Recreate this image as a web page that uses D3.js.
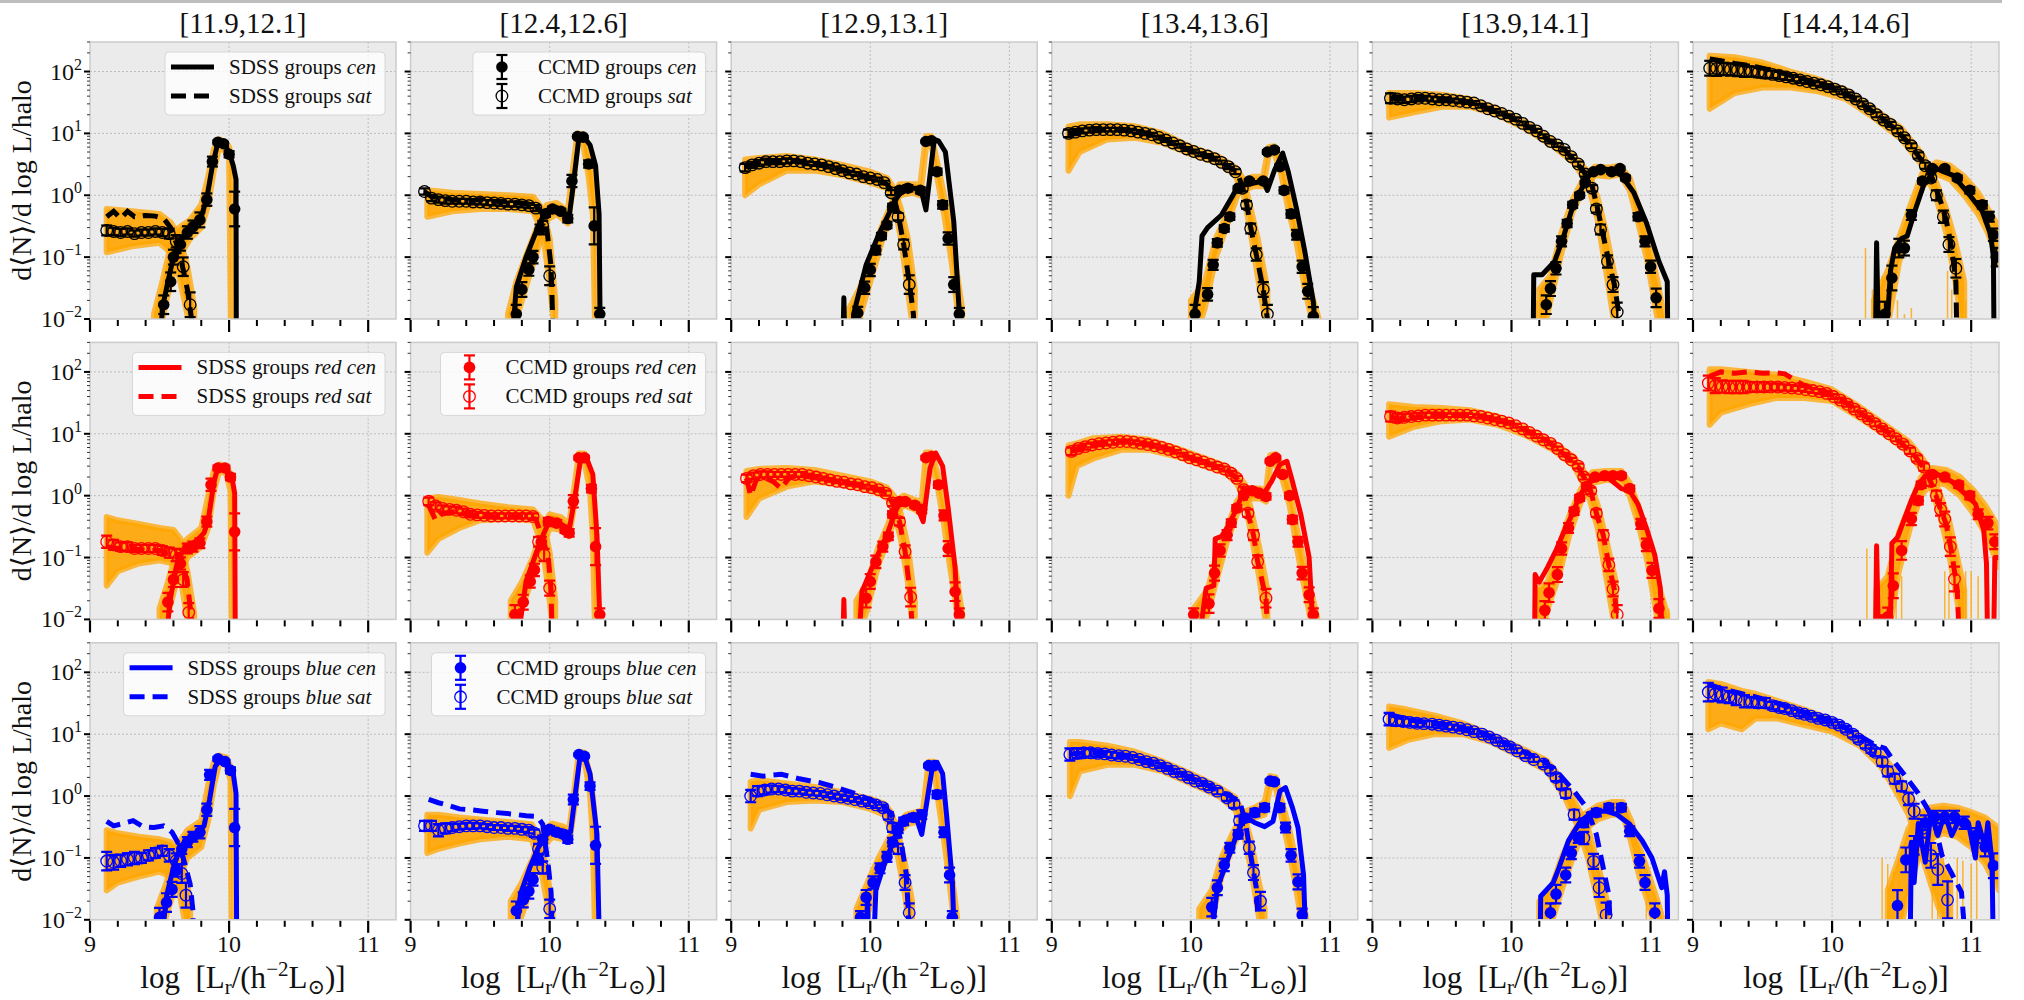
<!DOCTYPE html>
<html>
<head>
<meta charset="utf-8">
<script src="https://cdn.jsdelivr.net/npm/d3@7"></script>
<style>
  body { margin: 0; background: #fff; }
  svg text { font-family: "Liberation Serif", "DejaVu Serif", serif; fill: #111; }
</style>
</head>
<body>
<div id="chart"></div>
<script>
// halo mass bins (titles) and axis ticks
const massBins = ["[11.9,12.1]", "[12.4,12.6]", "[12.9,13.1]", "[13.4,13.6]", "[13.9,14.1]", "[14.4,14.6]"];
const xTicks = [9, 10, 11];
const xMinor = [9.2, 9.4, 9.6, 9.8, 10.2, 10.4, 10.6, 10.8];
const yExps = [-2, -1, 0, 1, 2];

// ---- all galaxies (black) ----
// SDSS lines: [logL, value]; 0 = drops out of the log axis
const sdssCenAll = [
  [[9.50,0],[9.52,0.015],[9.56,0.04],[9.60,0.10],[9.65,0.19],[9.70,0.26],[9.75,0.33],[9.80,0.45],[9.84,0.9],[9.88,3.0],[9.92,7.2],[9.96,6.8],[10.00,5.0],[10.03,3.0],[10.05,1.8],[10.052,0]],
  [[9.72,0],[9.76,0.033],[9.83,0.10],[9.90,0.25],[9.96,0.5],[10.0,0.62],[10.06,0.62],[10.14,0.45],[10.17,1.5],[10.21,8.5],[10.25,8.5],[10.29,6.5],[10.33,3.0],[10.355,0.5],[10.365,0]],
  [[9.80,0],[9.81,0.022],[9.82,0],[9.87,0],[9.88,0.012],[9.97,0.075],[10.06,0.23],[10.15,0.6],[10.19,0.9],[10.24,1.3],[10.33,1.3],[10.37,1.1],[10.40,0.58],[10.46,8.0],[10.49,7.6],[10.54,5.0],[10.60,0.38],[10.66,0]],
  [[9.99,0],[10.03,0.015],[10.06,0.04],[10.08,0.22],[10.12,0.3],[10.22,0.48],[10.34,1.4],[10.52,1.7],[10.55,1.2],[10.60,2.5],[10.66,4.8],[10.70,2.4],[10.76,0.6],[10.82,0.12],[10.88,0.019],[10.91,0]],
  [[10.155,0],[10.16,0.052],[10.22,0.052],[10.31,0.085],[10.37,0.2],[10.43,0.55],[10.49,1.1],[10.55,2.0],[10.62,2.7],[10.70,2.6],[10.79,2.1],[10.88,1.1],[10.97,0.36],[11.06,0.085],[11.12,0.04],[11.125,0]],
  [[10.31,0],[10.32,0.17],[10.33,0.011],[10.40,0.011],[10.42,0.06],[10.45,0.14],[10.50,0.2],[10.54,0.22],[10.60,0.6],[10.66,1.5],[10.75,2.7],[10.87,2.1],[10.99,1.0],[11.08,0.55],[11.14,0.23],[11.16,0.1],[11.165,0]]
];
const sdssSatAll = [
  [[9.12,0.45],[9.17,0.55],[9.22,0.42],[9.27,0.55],[9.32,0.45],[9.40,0.47],[9.47,0.46],[9.53,0.42],[9.58,0.30],[9.62,0.17],[9.66,0.08],[9.70,0.03],[9.73,0.01],[9.74,0]],
  [[9.10,1.15],[9.15,0.95],[9.22,0.9],[9.30,0.85],[9.40,0.8],[9.50,0.85],[9.60,0.8],[9.70,0.78],[9.80,0.75],[9.90,0.7],[9.95,0.5],[9.98,0.28],[10.01,0.07],[10.03,0]],
  [[9.10,2.9],[9.20,3.4],[9.30,3.5],[9.45,3.6],[9.60,3.2],[9.75,2.8],[9.90,2.2],[10.05,1.8],[10.12,1.5],[10.16,1.1],[10.20,0.5],[10.24,0.16],[10.28,0.04],[10.31,0.012],[10.32,0]],
  [[9.12,10],[9.25,11],[9.40,11.5],[9.57,11.5],[9.72,9.5],[9.87,7],[10.01,5.1],[10.16,4],[10.27,2.9],[10.33,2.4],[10.37,1.4],[10.40,0.75],[10.43,0.3],[10.47,0.11],[10.52,0.03],[10.55,0.01],[10.56,0]],
  [[9.13,37],[9.25,36],[9.40,37],[9.55,35],[9.73,31],[9.85,24],[10.0,18],[10.16,11.5],[10.28,7.4],[10.37,5.8],[10.46,3.5],[10.52,2.4],[10.58,1.4],[10.62,0.6],[10.65,0.28],[10.70,0.085],[10.74,0.036],[10.77,0.013],[10.78,0]],
  [[9.12,160],[9.20,150],[9.30,135],[9.45,120],[9.60,100],[9.80,75],[10.0,55],[10.15,38],[10.30,22],[10.45,12],[10.55,7],[10.65,3.5],[10.72,1.9],[10.78,0.8],[10.82,0.4],[10.86,0.14],[10.89,0.04],[10.90,0]]
];
// CCMD points: [logL, value, error in dex]
const ccmdCenAll = [
  [[9.53,0.017,0.15],[9.58,0.04,0.15],[9.60,0.10,0.12],[9.65,0.16,0.1],[9.70,0.25,0.1],[9.74,0.31,0.1],[9.79,0.40,0.12],[9.84,0.85,0.1],[9.88,3.5,0.08],[9.92,7.2,0.03],[9.96,6.8,0.03],[10.00,4.6,0.05],[10.04,0.6,0.28]],
  [[9.76,0.012,0.15],[9.80,0.03,0.12],[9.85,0.063,0.1],[9.88,0.10,0.1],[9.93,0.28,0.08],[9.97,0.5,0.05],[10.02,0.6,0.04],[10.08,0.55,0.04],[10.13,0.42,0.06],[10.16,1.7,0.1],[10.20,8.9,0.02],[10.24,8.7,0.02],[10.28,3.2,0.06],[10.32,0.32,0.3],[10.36,0.012,0.1]],
  [[9.91,0.0125,0.1],[9.96,0.032,0.1],[10.0,0.062,0.1],[10.04,0.13,0.07],[10.08,0.22,0.05],[10.12,0.33,0.05],[10.16,0.65,0.05],[10.21,1.2,0.04],[10.27,1.3,0.05],[10.36,1.2,0.05],[10.40,7.4,0.02],[10.44,7.6,0.02],[10.48,2.4,0.05],[10.52,0.7,0.06],[10.56,0.2,0.1],[10.60,0.036,0.12],[10.64,0.012,0.1]],
  [[10.03,0.012,0.15],[10.12,0.025,0.1],[10.16,0.075,0.08],[10.19,0.17,0.06],[10.24,0.29,0.05],[10.28,0.45,0.05],[10.34,1.3,0.03],[10.42,1.7,0.03],[10.52,1.7,0.03],[10.55,5.0,0.03],[10.60,5.4,0.03],[10.64,2.9,0.04],[10.67,1.2,0.05],[10.72,0.5,0.06],[10.76,0.23,0.08],[10.80,0.07,0.1],[10.84,0.028,0.12],[10.88,0.011,0.15]],
  [[10.25,0.017,0.15],[10.28,0.031,0.12],[10.32,0.066,0.1],[10.36,0.18,0.08],[10.40,0.35,0.06],[10.44,0.7,0.05],[10.49,1.0,0.04],[10.53,1.6,0.03],[10.59,2.4,0.03],[10.64,2.6,0.03],[10.72,2.4,0.03],[10.78,2.7,0.03],[10.82,1.9,0.04],[10.91,0.45,0.06],[10.96,0.18,0.08],[11.0,0.07,0.1],[11.04,0.022,0.15]],
  [[10.38,0.012,0.2],[10.43,0.046,0.2],[10.48,0.14,0.15],[10.52,0.14,0.12],[10.57,0.48,0.08],[10.65,1.7,0.04],[10.72,2.7,0.03],[10.81,2.7,0.03],[10.90,1.9,0.04],[10.99,1.2,0.05],[11.08,0.7,0.06],[11.13,0.45,0.08],[11.16,0.23,0.1],[11.18,0.1,0.15]]
];
const ccmdSatAll = [
  [[9.12,0.27,0.08],[9.17,0.26,0.06],[9.22,0.25,0.06],[9.27,0.26,0.05],[9.32,0.24,0.05],[9.37,0.25,0.05],[9.42,0.25,0.05],[9.47,0.26,0.05],[9.52,0.25,0.06],[9.57,0.24,0.08],[9.62,0.18,0.1],[9.67,0.07,0.15],[9.72,0.017,0.2]],
  [[9.10,1.15,0.05],[9.15,0.9,0.05],[9.20,0.85,0.05],[9.25,0.82,0.05],[9.30,0.8,0.04],[9.35,0.8,0.04],[9.40,0.8,0.04],[9.45,0.78,0.04],[9.50,0.78,0.04],[9.55,0.76,0.04],[9.60,0.75,0.04],[9.65,0.74,0.04],[9.70,0.72,0.04],[9.75,0.72,0.04],[9.80,0.7,0.04],[9.85,0.68,0.04],[9.90,0.62,0.05],[9.95,0.32,0.08],[10.00,0.05,0.15]],
  [[9.10,2.8,0.06],[9.15,3.1,0.05],[9.20,3.3,0.05],[9.25,3.5,0.05],[9.30,3.5,0.04],[9.35,3.5,0.04],[9.40,3.6,0.04],[9.45,3.6,0.03],[9.50,3.5,0.03],[9.55,3.3,0.03],[9.60,3.2,0.03],[9.65,3.1,0.03],[9.70,2.9,0.03],[9.75,2.7,0.03],[9.80,2.5,0.03],[9.85,2.3,0.03],[9.90,2.2,0.03],[9.95,2.0,0.03],[10.00,1.9,0.03],[10.05,1.8,0.03],[10.10,1.6,0.03],[10.15,1.1,0.04],[10.20,0.45,0.06],[10.24,0.16,0.08],[10.28,0.036,0.15]],
  [[9.12,10,0.06],[9.17,10.5,0.05],[9.22,11,0.04],[9.27,11.3,0.04],[9.32,11.5,0.04],[9.37,11.5,0.03],[9.42,11.5,0.03],[9.47,11.5,0.03],[9.52,11.3,0.03],[9.57,11,0.03],[9.62,10.5,0.03],[9.67,10,0.03],[9.72,9.5,0.03],[9.77,8.6,0.03],[9.82,7.8,0.03],[9.87,7,0.03],[9.92,6.3,0.03],[9.97,5.6,0.03],[10.02,5.1,0.03],[10.07,4.6,0.03],[10.12,4.3,0.03],[10.17,3.9,0.03],[10.22,3.4,0.03],[10.27,2.9,0.04],[10.32,2.4,0.04],[10.37,1.3,0.05],[10.40,0.7,0.06],[10.43,0.29,0.08],[10.47,0.11,0.1],[10.52,0.03,0.12],[10.55,0.012,0.15]],
  [[9.13,37,0.08],[9.18,36,0.06],[9.23,35,0.05],[9.28,36,0.05],[9.33,37,0.05],[9.38,37,0.04],[9.43,36,0.04],[9.48,35,0.04],[9.53,35,0.04],[9.58,34,0.03],[9.63,33,0.03],[9.68,32,0.03],[9.73,31,0.03],[9.78,28,0.03],[9.83,25,0.03],[9.88,23,0.03],[9.93,21,0.03],[9.98,19,0.03],[10.03,17,0.03],[10.08,14.5,0.03],[10.13,12.5,0.03],[10.18,11,0.03],[10.23,9,0.03],[10.28,7.4,0.03],[10.33,6.5,0.03],[10.38,5.5,0.03],[10.43,4.2,0.03],[10.48,3.2,0.04],[10.53,2.2,0.04],[10.58,1.3,0.05],[10.61,0.6,0.06],[10.64,0.28,0.08],[10.69,0.085,0.1],[10.73,0.036,0.12],[10.76,0.013,0.15]],
  [[9.12,113,0.12],[9.17,112,0.12],[9.22,110,0.1],[9.27,108,0.1],[9.32,106,0.1],[9.37,103,0.1],[9.42,100,0.08],[9.47,97,0.08],[9.52,94,0.08],[9.57,90,0.06],[9.62,86,0.06],[9.67,82,0.05],[9.72,78,0.05],[9.77,73,0.05],[9.82,69,0.04],[9.87,65,0.04],[9.92,61,0.04],[9.97,57,0.04],[10.02,52,0.04],[10.07,47,0.04],[10.12,42,0.04],[10.17,36,0.04],[10.22,30,0.04],[10.27,25,0.04],[10.32,20,0.04],[10.37,16.5,0.04],[10.42,14,0.04],[10.47,11,0.04],[10.52,8.5,0.04],[10.57,6.3,0.04],[10.62,4.4,0.05],[10.67,3.0,0.05],[10.71,1.9,0.06],[10.75,1.0,0.08],[10.80,0.45,0.1],[10.84,0.16,0.12],[10.89,0.066,0.15]]
];
// mock catalogue spread: [logL, low, high]
const mockSatAll = [
  [[9.12,0.12,0.6],[9.30,0.15,0.55],[9.50,0.17,0.5],[9.58,0.12,0.36],[9.64,0.05,0.22],[9.70,0.012,0.07],[9.75,0.003,0.015]],
  [[9.12,0.45,1.2],[9.30,0.55,1.1],[9.50,0.6,1.05],[9.70,0.6,1.0],[9.88,0.55,0.95],[9.95,0.25,0.6],[10.0,0.04,0.2],[10.04,0.005,0.02]],
  [[9.10,1.0,3.8],[9.20,1.5,4.0],[9.40,2.5,4.3],[9.60,2.5,3.8],[9.80,2.1,3.1],[10.0,1.6,2.4],[10.12,1.3,1.9],[10.17,0.8,1.3],[10.22,0.2,0.6],[10.27,0.03,0.2],[10.32,0.004,0.03]],
  [[9.12,2.5,13],[9.20,5,14],[9.40,8,14],[9.60,8.5,13],[9.80,7,10],[10.0,4.6,6],[10.2,3.3,4.2],[10.32,2.1,2.8],[10.38,1.0,1.8],[10.43,0.25,0.6],[10.48,0.05,0.2],[10.55,0.006,0.03]],
  [[9.12,18,45],[9.30,22,45],[9.50,27,42],[9.70,27,36],[9.90,20,25],[10.10,12,15],[10.30,6.2,7.8],[10.45,3.3,4.2],[10.55,1.5,2.4],[10.62,0.4,0.9],[10.68,0.06,0.25],[10.75,0.006,0.04]],
  [[9.12,25,180],[9.30,45,170],[9.50,55,140],[9.70,55,100],[9.90,48,75],[10.10,36,50],[10.30,18,25],[10.50,8,12],[10.65,3,4.5],[10.75,0.9,1.6],[10.82,0.25,0.6],[10.88,0.05,0.2],[10.95,0.005,0.04]]
];
const mockCenAll = [
  [[9.46,0.003,0.012],[9.52,0.01,0.04],[9.58,0.04,0.15],[9.64,0.1,0.3],[9.72,0.2,0.4],[9.80,0.3,0.7],[9.85,0.7,2.0],[9.89,2.5,5.5],[9.93,6.0,8.0],[9.98,5.0,7.0],[10.0,4.0,6.0],[10.015,0.003,4]],
  [[9.70,0.003,0.012],[9.76,0.01,0.04],[9.84,0.04,0.12],[9.92,0.15,0.35],[9.98,0.4,0.7],[10.05,0.5,0.75],[10.13,0.35,0.55],[10.17,1.5,3],[10.20,7,10],[10.24,7,9.5],[10.28,2,4.5],[10.31,0.5,2],[10.33,0.003,0.5]],
  [[9.85,0.003,0.015],[9.92,0.01,0.03],[10.0,0.04,0.09],[10.08,0.17,0.3],[10.16,0.55,0.8],[10.21,1.0,1.5],[10.30,1.1,1.5],[10.36,1.0,1.5],[10.40,6,9],[10.44,6.5,9],[10.48,2,3.5],[10.53,0.5,1.0],[10.58,0.1,0.3],[10.62,0.02,0.06],[10.66,0.003,0.015]],
  [[10.0,0.003,0.02],[10.10,0.015,0.04],[10.18,0.1,0.2],[10.26,0.33,0.5],[10.34,1.1,1.6],[10.45,1.4,2.0],[10.52,1.4,2.0],[10.56,4.5,6],[10.60,4.8,6.2],[10.65,2.2,3.5],[10.70,0.6,1.2],[10.76,0.17,0.3],[10.82,0.03,0.07],[10.88,0.008,0.02],[10.92,0.003,0.01]],
  [[10.20,0.003,0.03],[10.28,0.02,0.05],[10.36,0.12,0.25],[10.44,0.55,0.85],[10.52,1.3,1.9],[10.60,2.1,2.9],[10.70,2.0,2.8],[10.78,2.2,3.0],[10.85,1.2,1.9],[10.92,0.3,0.6],[10.98,0.08,0.2],[11.05,0.01,0.04],[11.10,0.003,0.01]],
  [[10.30,0.003,0.02],[10.40,0.008,0.06],[10.48,0.08,0.2],[10.56,0.35,0.65],[10.65,1.4,2.3],[10.75,2.2,3.4],[10.85,1.8,3.0],[10.95,1.0,2.0],[11.05,0.5,1.1],[11.12,0.25,0.6],[11.2,0.08,0.3]]
];
// single mock realisations that drop out of the log axis: [logL, top value]
const mockDropsAll = [[], [], [], [],
  [[10.18,0.02],[10.22,0.015]],
  [[10.24,0.14],[10.29,0.03],[10.36,0.05],[10.39,0.025],[10.47,0.02],[10.52,0.012],[10.57,0.015],[10.83,0.06],[10.86,0.03],[10.92,0.06],[10.96,0.02]]
];

// ---- red galaxies ----
const sdssCenRed = [
  [[9.53,0],[9.58,0.023],[9.62,0.07],[9.66,0.12],[9.70,0.15],[9.77,0.19],[9.82,0.25],[9.85,0.4],[9.89,1.6],[9.92,3.0],[9.97,2.8],[10.02,2.0],[10.04,1.1],[10.045,0]],
  [[9.75,0],[9.83,0.041],[9.88,0.085],[9.94,0.2],[10.0,0.4],[10.06,0.38],[10.14,0.28],[10.18,0.9],[10.22,3.6],[10.27,3.8],[10.31,2.2],[10.34,0.23],[10.37,0]],
  [[9.80,0],[9.81,0.021],[9.82,0],[9.91,0],[9.94,0.028],[10.03,0.085],[10.12,0.23],[10.18,0.56],[10.22,0.81],[10.28,0.81],[10.34,0.63],[10.38,0.38],[10.43,2.8],[10.47,4.9],[10.52,3.0],[10.56,0.63],[10.61,0.068],[10.64,0]],
  [[10.04,0],[10.11,0.032],[10.165,0.035],[10.175,0.2],[10.22,0.22],[10.26,0.3],[10.32,0.56],[10.38,1.18],[10.46,1.3],[10.52,1.04],[10.58,1.7],[10.64,3.2],[10.69,3.6],[10.73,1.7],[10.79,0.5],[10.85,0.1],[10.89,0]],
  [[10.165,0],[10.17,0.053],[10.20,0.04],[10.26,0.07],[10.32,0.13],[10.38,0.27],[10.44,0.52],[10.49,1.0],[10.55,1.6],[10.61,1.9],[10.70,1.9],[10.79,1.3],[10.85,1.2],[10.91,0.72],[10.97,0.3],[11.03,0.11],[11.07,0.032],[11.09,0]],
  [[10.31,0],[10.32,0.155],[10.33,0.011],[10.42,0.011],[10.43,0.17],[10.47,0.21],[10.52,0.42],[10.57,0.84],[10.62,1.5],[10.67,2.1],[10.76,2.2],[10.86,1.7],[10.95,1.1],[11.03,0.74],[11.09,0.28],[11.11,0.08],[11.12,0],[11.16,0],[11.17,0.1],[11.2,0.1]]
];
const sdssSatRed = [
  [[9.12,0.15],[9.20,0.14],[9.30,0.14],[9.40,0.13],[9.50,0.13],[9.58,0.12],[9.65,0.11],[9.70,0.04],[9.73,0.01],[9.74,0]],
  [[9.13,0.7],[9.18,0.4],[9.22,0.5],[9.30,0.55],[9.40,0.5],[9.50,0.47],[9.60,0.45],[9.70,0.45],[9.80,0.45],[9.90,0.42],[9.95,0.2],[9.99,0.1],[10.01,0.03],[10.02,0]],
  [[9.11,1.9],[9.14,1.0],[9.18,1.8],[9.23,2.0],[9.30,1.7],[9.36,1.3],[9.42,2.0],[9.50,2.1],[9.64,1.9],[9.76,1.7],[9.91,1.5],[10.03,1.3],[10.12,1.1],[10.16,0.76],[10.21,0.38],[10.25,0.125],[10.29,0.023],[10.31,0]],
  [[9.14,5.2],[9.26,6.3],[9.41,7.2],[9.55,7.6],[9.70,6.7],[9.85,5.6],[9.99,4.1],[10.14,3.2],[10.26,2.6],[10.33,1.9],[10.38,1.25],[10.41,0.52],[10.45,0.23],[10.48,0.086],[10.54,0.022],[10.56,0]],
  [[9.13,19],[9.20,17],[9.25,22],[9.30,18],[9.40,20],[9.54,20],[9.69,20],[9.84,18],[9.99,15],[10.14,10.4],[10.26,7.6],[10.38,4.6],[10.47,3.2],[10.52,2.0],[10.57,1.2],[10.61,0.52],[10.66,0.23],[10.70,0.076],[10.74,0.03],[10.78,0]],
  [[9.12,85],[9.20,100],[9.30,95],[9.40,100],[9.50,95],[9.60,97],[9.66,93],[9.80,60],[9.95,48],[10.09,33],[10.24,19],[10.38,11.5],[10.50,7],[10.59,4.5],[10.67,2.6],[10.73,1.3],[10.78,0.6],[10.82,0.35],[10.86,0.12],[10.90,0.03],[10.92,0]]
];
const ccmdCenRed = [
  [[9.56,0.019,0.15],[9.60,0.044,0.12],[9.65,0.08,0.1],[9.70,0.14,0.08],[9.74,0.15,0.08],[9.79,0.17,0.08],[9.84,0.38,0.08],[9.87,1.5,0.1],[9.92,2.8,0.04],[9.97,2.8,0.04],[10.01,2.0,0.05],[10.04,0.26,0.3]],
  [[9.75,0.012,0.15],[9.81,0.019,0.12],[9.86,0.041,0.1],[9.89,0.063,0.1],[9.94,0.18,0.08],[9.99,0.38,0.06],[10.05,0.36,0.05],[10.11,0.28,0.05],[10.14,0.25,0.06],[10.17,0.81,0.1],[10.21,4.1,0.03],[10.25,4.1,0.03],[10.30,1.3,0.06],[10.33,0.15,0.3],[10.36,0.012,0.1]],
  [[9.97,0.022,0.15],[10.00,0.041,0.12],[10.04,0.085,0.1],[10.09,0.15,0.08],[10.13,0.22,0.06],[10.16,0.5,0.05],[10.21,0.8,0.04],[10.25,0.8,0.04],[10.32,0.7,0.04],[10.37,0.6,0.06],[10.40,4.1,0.03],[10.44,4.3,0.03],[10.49,1.5,0.05],[10.53,0.48,0.08],[10.56,0.14,0.12],[10.61,0.028,0.15],[10.64,0.012,0.1]],
  [[10.02,0.012,0.1],[10.13,0.018,0.15],[10.17,0.056,0.12],[10.21,0.13,0.1],[10.26,0.23,0.08],[10.29,0.36,0.06],[10.33,0.63,0.05],[10.38,1.04,0.04],[10.44,1.2,0.04],[10.49,1.1,0.04],[10.54,0.97,0.05],[10.57,3.6,0.03],[10.61,4.1,0.03],[10.66,2.2,0.04],[10.71,1.0,0.05],[10.73,0.41,0.06],[10.77,0.18,0.08],[10.80,0.056,0.1],[10.85,0.025,0.12],[10.88,0.012,0.1]],
  [[10.24,0.014,0.15],[10.27,0.027,0.15],[10.33,0.053,0.12],[10.36,0.14,0.1],[10.41,0.3,0.08],[10.45,0.56,0.06],[10.49,0.92,0.05],[10.54,1.4,0.04],[10.60,2.0,0.03],[10.67,2.1,0.03],[10.73,2.1,0.03],[10.79,2.1,0.04],[10.85,1.3,0.05],[10.93,0.35,0.08],[10.97,0.16,0.1],[11.01,0.062,0.12],[11.06,0.015,0.15]],
  [[10.40,0.011,0.15],[10.44,0.035,0.2],[10.50,0.13,0.15],[10.57,0.42,0.1],[10.62,0.83,0.06],[10.64,1.5,0.05],[10.72,2.2,0.04],[10.81,2.0,0.04],[10.91,1.5,0.05],[10.99,1.0,0.06],[11.05,0.5,0.08],[11.12,0.36,0.1],[11.17,0.18,0.12]]
];
const ccmdSatRed = [
  [[9.12,0.18,0.1],[9.17,0.16,0.08],[9.22,0.15,0.07],[9.27,0.15,0.07],[9.32,0.14,0.06],[9.37,0.14,0.06],[9.42,0.14,0.06],[9.47,0.14,0.06],[9.52,0.13,0.07],[9.57,0.12,0.08],[9.62,0.11,0.1],[9.67,0.044,0.12],[9.71,0.013,0.15]],
  [[9.13,0.81,0.06],[9.18,0.68,0.06],[9.23,0.62,0.05],[9.28,0.6,0.05],[9.33,0.58,0.05],[9.38,0.55,0.05],[9.43,0.5,0.05],[9.48,0.49,0.05],[9.53,0.48,0.04],[9.58,0.47,0.04],[9.63,0.47,0.04],[9.68,0.47,0.04],[9.73,0.47,0.04],[9.78,0.47,0.04],[9.83,0.47,0.04],[9.88,0.46,0.05],[9.92,0.18,0.08],[9.96,0.11,0.1],[10.0,0.032,0.12]],
  [[9.11,1.9,0.06],[9.16,2.1,0.05],[9.21,2.2,0.05],[9.26,2.2,0.05],[9.31,2.2,0.04],[9.36,2.2,0.04],[9.41,2.2,0.04],[9.46,2.2,0.04],[9.51,2.2,0.04],[9.56,2.1,0.03],[9.61,2.0,0.03],[9.66,1.9,0.03],[9.71,1.8,0.03],[9.76,1.7,0.03],[9.81,1.65,0.03],[9.86,1.55,0.03],[9.91,1.5,0.03],[9.96,1.4,0.03],[10.01,1.35,0.03],[10.06,1.25,0.03],[10.11,1.1,0.04],[10.16,0.76,0.05],[10.21,0.38,0.06],[10.25,0.125,0.1],[10.29,0.023,0.15]],
  [[9.14,5.2,0.06],[9.19,5.8,0.05],[9.24,6.2,0.05],[9.29,6.6,0.04],[9.34,6.9,0.04],[9.39,7.1,0.04],[9.44,7.3,0.04],[9.49,7.5,0.03],[9.54,7.5,0.03],[9.59,7.3,0.03],[9.64,7.0,0.03],[9.69,6.7,0.03],[9.74,6.4,0.03],[9.79,6.0,0.03],[9.84,5.6,0.03],[9.89,5.1,0.03],[9.94,4.6,0.03],[9.99,4.1,0.03],[10.04,3.8,0.03],[10.09,3.5,0.03],[10.14,3.2,0.03],[10.19,2.9,0.03],[10.24,2.7,0.04],[10.29,2.3,0.04],[10.33,1.9,0.04],[10.38,1.25,0.05],[10.41,0.52,0.06],[10.45,0.23,0.08],[10.48,0.086,0.1],[10.54,0.022,0.15]],
  [[9.13,19,0.08],[9.18,18,0.07],[9.23,18.5,0.06],[9.28,19,0.05],[9.33,19.5,0.05],[9.38,20,0.04],[9.43,20,0.04],[9.48,20,0.04],[9.53,20,0.03],[9.58,20,0.03],[9.63,20,0.03],[9.68,20,0.03],[9.73,19.5,0.03],[9.78,19,0.03],[9.83,18,0.03],[9.88,17,0.03],[9.93,16,0.03],[9.98,15,0.03],[10.03,13.5,0.03],[10.08,12,0.03],[10.13,10.5,0.03],[10.18,9.2,0.03],[10.23,8,0.03],[10.28,7,0.03],[10.33,5.8,0.03],[10.38,4.6,0.03],[10.43,3.8,0.03],[10.48,3.0,0.04],[10.52,2.0,0.04],[10.57,1.2,0.05],[10.61,0.52,0.06],[10.66,0.23,0.08],[10.70,0.076,0.1],[10.73,0.031,0.12],[10.76,0.012,0.15]],
  [[9.11,66,0.12],[9.16,60,0.12],[9.21,58,0.1],[9.26,57,0.1],[9.31,57,0.1],[9.36,57,0.1],[9.41,57,0.08],[9.46,57,0.08],[9.51,57,0.08],[9.56,57,0.06],[9.61,57,0.06],[9.66,56,0.05],[9.71,55,0.05],[9.76,54,0.04],[9.81,52,0.04],[9.86,50,0.04],[9.91,48,0.04],[9.96,45,0.04],[10.01,40,0.04],[10.06,35,0.04],[10.11,30,0.04],[10.16,25,0.04],[10.21,21,0.04],[10.26,17.5,0.04],[10.31,14.5,0.04],[10.36,12,0.04],[10.41,10,0.04],[10.46,8.3,0.04],[10.51,6.8,0.04],[10.56,5.3,0.05],[10.61,4,0.05],[10.66,2.9,0.06],[10.71,1.7,0.07],[10.75,1.0,0.08],[10.78,0.6,0.1],[10.81,0.42,0.12],[10.85,0.15,0.15],[10.88,0.045,0.2]]
];
const mockSatRed = [
  [[9.12,0.035,0.45],[9.20,0.06,0.4],[9.35,0.08,0.35],[9.50,0.09,0.3],[9.60,0.08,0.28],[9.65,0.05,0.2],[9.70,0.01,0.06],[9.75,0.003,0.012]],
  [[9.12,0.12,0.9],[9.20,0.2,0.95],[9.35,0.3,0.85],[9.50,0.4,0.75],[9.70,0.42,0.65],[9.88,0.4,0.6],[9.95,0.15,0.4],[10.0,0.02,0.12],[10.04,0.003,0.02]],
  [[9.11,0.45,2.5],[9.20,0.9,2.7],[9.40,1.4,2.8],[9.60,1.7,2.6],[9.80,1.5,2.1],[10.0,1.2,1.7],[10.12,0.95,1.35],[10.17,0.55,1.0],[10.22,0.2,0.5],[10.27,0.04,0.15],[10.32,0.004,0.02]],
  [[9.12,1.0,6.5],[9.18,3.0,7],[9.30,4,8.5],[9.50,5.5,9],[9.70,5.5,8.0],[9.90,4.3,5.8],[10.10,3.0,4.0],[10.25,2.3,3.0],[10.33,1.6,2.3],[10.39,0.8,1.5],[10.44,0.2,0.5],[10.49,0.05,0.15],[10.55,0.006,0.03]],
  [[9.12,9,30],[9.30,13,27],[9.50,16,26],[9.70,17,24],[9.90,14,19],[10.10,9.5,12.5],[10.30,5.5,7.2],[10.45,3.0,4.2],[10.55,1.1,2.0],[10.62,0.3,0.7],[10.68,0.05,0.2],[10.75,0.006,0.04]],
  [[9.12,14,110],[9.20,22,110],[9.40,30,100],[9.60,38,90],[9.80,38,70],[10.0,34,52],[10.20,18,27],[10.40,9,13],[10.55,5,7.5],[10.65,2.5,4],[10.72,1.2,2.2],[10.78,0.45,1.0],[10.84,0.12,0.4],[10.90,0.02,0.1],[10.95,0.004,0.03]]
];
const mockCenRed = [
  [[9.50,0.004,0.015],[9.56,0.012,0.04],[9.62,0.04,0.12],[9.70,0.1,0.2],[9.80,0.15,0.3],[9.85,0.3,1.0],[9.89,1.2,2.5],[9.93,2.5,3.2],[9.98,2.3,3.0],[10.01,1.2,2.2],[10.02,0.003,1.5]],
  [[9.72,0.004,0.02],[9.80,0.015,0.04],[9.88,0.05,0.1],[9.95,0.15,0.3],[10.0,0.3,0.5],[10.08,0.28,0.45],[10.14,0.22,0.35],[10.18,0.8,1.5],[10.21,3.5,4.8],[10.25,3.5,4.8],[10.29,1.2,2.5],[10.31,0.2,1.0],[10.33,0.003,0.3]],
  [[9.90,0.004,0.02],[9.98,0.015,0.04],[10.06,0.08,0.15],[10.13,0.2,0.35],[10.18,0.5,0.8],[10.24,0.7,1.0],[10.32,0.6,0.85],[10.37,0.5,0.8],[10.40,3.5,5],[10.44,3.7,5],[10.49,1.2,2.0],[10.53,0.35,0.7],[10.57,0.08,0.2],[10.62,0.015,0.05],[10.66,0.003,0.012]],
  [[10.02,0.004,0.015],[10.12,0.012,0.03],[10.18,0.04,0.1],[10.26,0.18,0.3],[10.33,0.5,0.8],[10.40,0.9,1.3],[10.50,0.9,1.3],[10.54,0.8,1.2],[10.57,3.0,4.5],[10.61,3.3,4.7],[10.66,1.8,2.8],[10.71,0.7,1.3],[10.76,0.15,0.3],[10.82,0.03,0.07],[10.88,0.006,0.02],[10.91,0.003,0.01]],
  [[10.18,0.003,0.03],[10.26,0.015,0.04],[10.34,0.05,0.15],[10.42,0.25,0.5],[10.50,0.8,1.3],[10.58,1.6,2.4],[10.68,1.8,2.5],[10.79,1.7,2.5],[10.85,1.0,1.6],[10.92,0.3,0.6],[10.98,0.08,0.2],[11.05,0.01,0.04],[11.12,0.003,0.012]],
  [[10.32,0.003,0.03],[10.40,0.005,0.05],[10.48,0.06,0.25],[10.56,0.3,0.7],[10.64,1.0,2.0],[10.72,1.7,2.8],[10.82,1.5,2.6],[10.92,1.0,2.0],[11.02,0.5,1.2],[11.10,0.25,0.7],[11.2,0.07,0.3]]
];
const mockDropsRed = [[], [], [], [],
  [[10.16,0.02],[11.10,0.02],[11.13,0.015]],
  [[10.25,0.14],[10.36,0.04],[10.40,0.06],[10.46,0.07],[10.50,0.05],[10.81,0.06],[10.84,0.04],[10.96,0.06],[11.0,0.06],[11.05,0.05]]
];

// ---- blue galaxies ----
const sdssCenBlue = [
  [[9.50,0],[9.55,0.024],[9.60,0.07],[9.65,0.15],[9.70,0.2],[9.77,0.26],[9.82,0.33],[9.86,0.88],[9.90,3.0],[9.94,4.0],[9.98,3.7],[10.03,2.3],[10.05,1.1],[10.055,0]],
  [[9.74,0],[9.79,0.026],[9.86,0.073],[9.92,0.15],[9.98,0.24],[10.05,0.29],[10.12,0.26],[10.15,0.26],[10.18,0.9],[10.22,4.7],[10.25,4.4],[10.29,2.3],[10.34,0.24],[10.36,0]],
  [[9.97,0],[9.98,0.026],[9.99,0],[10.02,0],[10.04,0.03],[10.09,0.068],[10.15,0.15],[10.20,0.3],[10.24,0.45],[10.29,0.48],[10.33,0.45],[10.37,0.24],[10.45,3.3],[10.48,3.5],[10.52,2.3],[10.55,0.45],[10.59,0.041],[10.61,0]],
  [[10.13,0],[10.19,0.033],[10.26,0.088],[10.33,0.24],[10.39,0.47],[10.46,0.37],[10.53,0.32],[10.59,0.39],[10.64,1.2],[10.68,1.37],[10.73,0.65],[10.77,0.31],[10.81,0.053],[10.83,0]],
  [[10.205,0],[10.21,0.024],[10.25,0.03],[10.30,0.04],[10.34,0.068],[10.41,0.19],[10.50,0.4],[10.59,0.57],[10.68,0.57],[10.76,0.5],[10.85,0.35],[10.94,0.19],[11.01,0.1],[11.08,0.033],[11.10,0.06],[11.12,0.025],[11.125,0]],
  [[10.56,0],[10.57,0.18],[10.59,0.04],[10.62,0.36],[10.67,0.085],[10.71,0.53],[10.76,0.23],[10.81,0.53],[10.86,0.23],[10.91,0.4],[10.98,0.37],[11.03,0.1],[11.05,0.37],[11.10,0.15],[11.12,0.37],[11.15,0.085],[11.16,0]]
];
const sdssSatBlue = [
  [[9.12,0.39],[9.17,0.33],[9.24,0.36],[9.31,0.4],[9.38,0.32],[9.46,0.31],[9.53,0.33],[9.59,0.26],[9.65,0.15],[9.68,0.083],[9.72,0.038],[9.74,0.014],[9.745,0]],
  [[9.13,0.88],[9.20,0.78],[9.26,0.72],[9.35,0.62],[9.43,0.6],[9.52,0.57],[9.62,0.54],[9.74,0.51],[9.83,0.48],[9.91,0.47],[9.95,0.35],[9.99,0.074],[10.01,0.028],[10.02,0]],
  [[9.14,2.25],[9.23,2.1],[9.36,2.25],[9.49,1.9],[9.63,1.66],[9.76,1.37],[9.89,1.1],[10.02,0.83],[10.11,0.65],[10.18,0.4],[10.22,0.19],[10.26,0.053],[10.29,0]],
  [[9.13,4.8],[9.27,5.0],[9.40,4.8],[9.58,4.3],[9.75,3.4],[9.93,2.3],[10.06,1.7],[10.19,1.25],[10.30,0.95],[10.35,0.83],[10.39,0.4],[10.43,0.11],[10.47,0.033],[10.50,0]],
  [[9.12,21],[9.26,17],[9.43,15],[9.61,13],[9.79,10.5],[9.97,7],[10.10,5],[10.23,3.7],[10.34,2.3],[10.45,1.2],[10.54,0.65],[10.61,0.24],[10.65,0.088],[10.70,0.025],[10.72,0]],
  [[9.11,64],[9.20,55],[9.30,48],[9.45,40],[9.60,32],[9.80,22],[10.02,15.6],[10.19,9.6],[10.31,6.7],[10.38,5.9],[10.45,3.5],[10.52,2.2],[10.62,1.1],[10.69,0.6],[10.74,0.34],[10.79,0.11],[10.86,0.056],[10.93,0.028],[10.97,0]]
];
const ccmdCenBlue = [
  [[9.50,0.011,0.15],[9.55,0.019,0.15],[9.59,0.031,0.12],[9.62,0.063,0.1],[9.66,0.14,0.08],[9.70,0.18,0.08],[9.74,0.22,0.08],[9.79,0.26,0.1],[9.84,0.6,0.1],[9.86,2.2,0.08],[9.92,4.0,0.03],[9.97,3.6,0.03],[10.01,2.6,0.05],[10.04,0.31,0.3]],
  [[9.76,0.014,0.15],[9.81,0.021,0.12],[9.85,0.029,0.12],[9.88,0.045,0.1],[9.92,0.094,0.08],[9.95,0.2,0.06],[10.0,0.29,0.05],[10.05,0.26,0.05],[10.10,0.24,0.05],[10.13,0.2,0.06],[10.17,0.88,0.08],[10.21,4.7,0.02],[10.25,4.4,0.02],[10.29,1.45,0.06],[10.33,0.16,0.3]],
  [[9.93,0.011,0.1],[9.97,0.023,0.12],[10.02,0.04,0.1],[10.07,0.068,0.08],[10.12,0.104,0.08],[10.16,0.18,0.07],[10.20,0.29,0.06],[10.24,0.39,0.06],[10.31,0.45,0.06],[10.37,0.5,0.07],[10.42,3.1,0.03],[10.46,3.1,0.03],[10.48,1.06,0.06],[10.53,0.26,0.08],[10.57,0.053,0.12],[10.59,0.011,0.1]],
  [[10.15,0.016,0.15],[10.19,0.033,0.12],[10.24,0.077,0.1],[10.28,0.146,0.08],[10.34,0.24,0.07],[10.39,0.44,0.06],[10.46,0.54,0.06],[10.53,0.65,0.06],[10.57,1.75,0.03],[10.60,1.7,0.03],[10.64,0.65,0.06],[10.68,0.31,0.08],[10.72,0.11,0.1],[10.77,0.041,0.12],[10.80,0.012,0.1]],
  [[10.28,0.013,0.15],[10.32,0.026,0.15],[10.39,0.053,0.12],[10.43,0.12,0.1],[10.48,0.21,0.08],[10.52,0.37,0.07],[10.61,0.54,0.06],[10.70,0.65,0.06],[10.79,0.65,0.06],[10.85,0.27,0.08],[10.92,0.088,0.1],[10.96,0.04,0.12],[11.03,0.013,0.15]],
  [[10.47,0.017,0.25],[10.53,0.093,0.2],[10.59,0.16,0.15],[10.67,0.37,0.12],[10.74,0.46,0.1],[10.81,0.46,0.1],[10.88,0.46,0.1],[10.95,0.37,0.1],[11.03,0.23,0.12],[11.10,0.15,0.15],[11.16,0.075,0.2]]
];
const ccmdSatBlue = [
  [[9.12,0.089,0.15],[9.17,0.085,0.12],[9.22,0.09,0.1],[9.27,0.095,0.1],[9.32,0.1,0.1],[9.37,0.1,0.08],[9.42,0.11,0.08],[9.47,0.12,0.08],[9.52,0.13,0.08],[9.57,0.11,0.1],[9.62,0.09,0.12],[9.66,0.056,0.15],[9.69,0.025,0.2]],
  [[9.10,0.33,0.08],[9.15,0.33,0.08],[9.20,0.28,0.1],[9.25,0.3,0.08],[9.30,0.31,0.06],[9.35,0.32,0.05],[9.40,0.33,0.05],[9.45,0.33,0.05],[9.50,0.33,0.04],[9.55,0.32,0.04],[9.60,0.31,0.04],[9.65,0.31,0.04],[9.70,0.3,0.04],[9.75,0.3,0.04],[9.80,0.29,0.04],[9.85,0.28,0.05],[9.89,0.25,0.06],[9.92,0.14,0.08],[9.95,0.07,0.1],[10.0,0.015,0.15]],
  [[9.14,1.0,0.1],[9.19,1.2,0.08],[9.24,1.25,0.07],[9.29,1.3,0.06],[9.34,1.3,0.05],[9.39,1.25,0.05],[9.44,1.2,0.05],[9.49,1.2,0.04],[9.54,1.15,0.04],[9.59,1.12,0.04],[9.64,1.1,0.04],[9.69,1.05,0.04],[9.74,1.0,0.04],[9.79,0.96,0.04],[9.84,0.92,0.04],[9.89,0.88,0.04],[9.94,0.83,0.04],[9.99,0.78,0.05],[10.04,0.72,0.05],[10.09,0.65,0.05],[10.13,0.48,0.06],[10.16,0.31,0.07],[10.20,0.14,0.08],[10.25,0.04,0.12],[10.28,0.013,0.15]],
  [[9.13,4.7,0.1],[9.18,4.9,0.08],[9.23,5.0,0.07],[9.28,5.0,0.06],[9.33,4.9,0.06],[9.38,4.8,0.05],[9.43,4.6,0.05],[9.48,4.5,0.05],[9.53,4.4,0.04],[9.58,4.2,0.04],[9.63,3.9,0.04],[9.68,3.6,0.04],[9.73,3.4,0.04],[9.78,3.1,0.04],[9.83,2.8,0.04],[9.88,2.5,0.04],[9.93,2.25,0.04],[9.98,2.0,0.04],[10.03,1.75,0.04],[10.08,1.6,0.04],[10.13,1.4,0.05],[10.19,1.2,0.05],[10.26,0.94,0.05],[10.31,0.74,0.06],[10.35,0.4,0.07],[10.42,0.146,0.1],[10.45,0.058,0.12],[10.50,0.02,0.15]],
  [[9.12,17.5,0.1],[9.17,16.5,0.08],[9.22,16,0.07],[9.27,15.5,0.06],[9.32,15,0.06],[9.37,14.8,0.05],[9.43,14.5,0.05],[9.48,14,0.05],[9.53,13.5,0.05],[9.58,13,0.04],[9.63,12.5,0.04],[9.68,11.8,0.04],[9.73,11,0.04],[9.79,10,0.04],[9.84,9,0.04],[9.89,8,0.04],[9.94,7,0.04],[9.99,6.2,0.04],[10.04,5.4,0.04],[10.10,4.5,0.04],[10.16,3.9,0.04],[10.23,3.3,0.05],[10.28,2.6,0.05],[10.32,2.0,0.06],[10.36,1.5,0.06],[10.39,1.1,0.07],[10.45,0.5,0.08],[10.52,0.21,0.1],[10.59,0.088,0.12],[10.63,0.033,0.15],[10.68,0.012,0.2]],
  [[9.11,48,0.15],[9.16,45,0.12],[9.21,43,0.12],[9.26,40,0.1],[9.31,37,0.1],[9.37,34,0.1],[9.42,33,0.08],[9.47,32,0.08],[9.52,32,0.08],[9.57,29,0.06],[9.62,27,0.06],[9.66,26,0.06],[9.71,24,0.05],[9.76,22,0.05],[9.80,21,0.05],[9.85,19.5,0.05],[9.90,18,0.05],[9.95,17,0.05],[10.0,15.5,0.05],[10.05,14,0.05],[10.10,12,0.05],[10.15,10,0.05],[10.19,8.3,0.05],[10.24,6.8,0.06],[10.28,5.8,0.06],[10.31,5.1,0.06],[10.36,3.6,0.07],[10.40,2.5,0.08],[10.45,1.9,0.08],[10.50,1.44,0.08],[10.55,0.9,0.1],[10.59,0.57,0.12],[10.65,0.3,0.15],[10.71,0.11,0.2],[10.76,0.065,0.25],[10.83,0.021,0.3]]
];
const mockSatBlue = [
  [[9.12,0.03,0.28],[9.20,0.04,0.25],[9.35,0.05,0.22],[9.50,0.06,0.2],[9.58,0.05,0.18],[9.64,0.03,0.12],[9.68,0.01,0.06],[9.72,0.003,0.02]],
  [[9.12,0.12,0.5],[9.20,0.14,0.5],[9.35,0.17,0.45],[9.50,0.2,0.42],[9.70,0.22,0.38],[9.87,0.2,0.35],[9.93,0.08,0.2],[9.98,0.02,0.06],[10.02,0.003,0.015]],
  [[9.14,0.3,1.7],[9.20,0.6,1.8],[9.40,0.8,1.6],[9.60,0.85,1.4],[9.80,0.8,1.15],[10.0,0.62,0.9],[10.10,0.5,0.75],[10.15,0.28,0.55],[10.20,0.1,0.25],[10.25,0.025,0.08],[10.30,0.004,0.02]],
  [[9.13,1.0,7.5],[9.20,2.5,7.5],[9.40,3.2,6.5],[9.60,3.2,5.2],[9.80,2.5,3.6],[10.0,1.6,2.3],[10.20,1.0,1.4],[10.32,0.6,0.95],[10.38,0.25,0.5],[10.43,0.07,0.2],[10.48,0.015,0.05],[10.53,0.003,0.015]],
  [[9.12,6,28],[9.25,8,25],[9.45,10,20],[9.65,10,15],[9.85,7.5,10],[10.05,4.5,6.2],[10.25,2.6,3.8],[10.38,1.0,1.7],[10.47,0.35,0.7],[10.55,0.1,0.3],[10.62,0.02,0.08],[10.70,0.003,0.015]],
  [[9.11,12,70],[9.20,15,65],[9.35,12,50],[9.45,18,45],[9.60,18,35],[9.80,14,25],[10.0,11,17],[10.20,6.5,9.5],[10.35,3,5],[10.45,1.3,2.5],[10.55,0.5,1.2],[10.65,0.1,0.4],[10.75,0.02,0.12],[10.85,0.005,0.04]]
];
const mockCenBlue = [
  [[9.48,0.004,0.015],[9.55,0.012,0.04],[9.62,0.04,0.15],[9.70,0.1,0.28],[9.80,0.15,0.4],[9.85,0.4,1.5],[9.89,1.5,3.5],[9.93,3.5,4.5],[9.98,3.2,4.2],[10.01,1.8,3.0],[10.02,0.003,2]],
  [[9.72,0.004,0.02],[9.80,0.012,0.04],[9.88,0.04,0.1],[9.95,0.15,0.28],[10.02,0.22,0.36],[10.10,0.2,0.32],[10.14,0.18,0.28],[10.18,0.7,1.4],[10.21,4.0,5.2],[10.25,3.8,5.0],[10.29,1.1,2.2],[10.31,0.2,1.0],[10.33,0.003,0.3]],
  [[9.90,0.004,0.015],[9.98,0.012,0.04],[10.06,0.05,0.1],[10.14,0.12,0.22],[10.20,0.24,0.36],[10.26,0.35,0.5],[10.33,0.38,0.55],[10.38,0.4,0.6],[10.42,2.7,3.6],[10.46,2.7,3.6],[10.49,0.8,1.5],[10.53,0.2,0.4],[10.57,0.04,0.1],[10.61,0.006,0.02],[10.63,0.003,0.008]],
  [[10.06,0.004,0.015],[10.15,0.01,0.03],[10.22,0.05,0.1],[10.30,0.15,0.25],[10.38,0.35,0.55],[10.46,0.45,0.65],[10.53,0.5,0.8],[10.57,1.4,2.1],[10.61,1.4,2.0],[10.65,0.5,0.85],[10.70,0.15,0.35],[10.75,0.04,0.1],[10.80,0.008,0.025],[10.83,0.003,0.01]],
  [[10.20,0.003,0.02],[10.28,0.008,0.03],[10.36,0.03,0.1],[10.44,0.1,0.25],[10.52,0.28,0.5],[10.62,0.42,0.7],[10.72,0.5,0.8],[10.80,0.5,0.8],[10.86,0.18,0.4],[10.92,0.05,0.15],[10.98,0.02,0.06],[11.05,0.005,0.02],[11.10,0.003,0.008]],
  [[10.40,0.003,0.03],[10.48,0.005,0.1],[10.55,0.03,0.3],[10.62,0.1,0.5],[10.70,0.2,0.65],[10.80,0.25,0.7],[10.90,0.22,0.65],[11.0,0.15,0.55],[11.10,0.08,0.45],[11.2,0.03,0.3]]
];
const mockDropsBlue = [[], [], [], [],
  [[10.26,0.03],[10.30,0.02],[10.97,0.02],[11.05,0.015]],
  [[10.36,0.1],[10.40,0.08],[10.44,0.06],[10.48,0.1],[10.72,0.1],[10.76,0.09],[10.80,0.1],[10.84,0.08],[10.90,0.1],[10.94,0.09],[11.0,0.08],[11.04,0.1]]
];

const rows = [
  { colour: "#000000", label: "", sdssCen: sdssCenAll, sdssSat: sdssSatAll, ccmdCen: ccmdCenAll, ccmdSat: ccmdSatAll, mockCen: mockCenAll, mockSat: mockSatAll, drops: mockDropsAll },
  { colour: "#ff0000", label: "red ", sdssCen: sdssCenRed, sdssSat: sdssSatRed, ccmdCen: ccmdCenRed, ccmdSat: ccmdSatRed, mockCen: mockCenRed, mockSat: mockSatRed, drops: mockDropsRed },
  { colour: "#0000ff", label: "blue ", sdssCen: sdssCenBlue, sdssSat: sdssSatBlue, ccmdCen: ccmdCenBlue, ccmdSat: ccmdSatBlue, mockCen: mockCenBlue, mockSat: mockSatBlue, drops: mockDropsBlue }
];

const W = 2024, H = 1000;
const panelW = 306, panelH = 277;
const colLeft = c => 90 + c * 320.6;
const rowTop = r => 42 + r * 300.4;

const x = d3.scaleLinear().domain([9, 11.2]).range([0, panelW]);
const y = d3.scaleLog().domain([0.01, 300]).range([panelH, 0]);
const yv = v => v > 0 ? y(v) : panelH + 40;

const svg = d3.select("#chart").append("svg").attr("width", W).attr("height", H);
svg.append("rect").attr("x", 0).attr("y", 0).attr("width", 2002).attr("height", 3).attr("fill", "#bdbdbd");
svg.append("defs").append("clipPath").attr("id", "clip")
  .append("rect").attr("width", panelW).attr("height", panelH);

const line = d3.line().x(d => x(d[0])).y(d => yv(d[1]));
const band = d3.area().x(d => x(d[0])).y0(d => yv(d[1])).y1(d => yv(d[2]));

function drawPoints(g, pts, colour, filled) {
  const p = g.append("g");
  pts.forEach(d => {
    const cx = x(d[0]);
    const lo = yv(d[1] / Math.pow(10, d[2])), hi = yv(d[1] * Math.pow(10, d[2]));
    p.append("line").attr("x1", cx).attr("x2", cx).attr("y1", lo).attr("y2", hi)
      .attr("stroke", colour).attr("stroke-width", 2.2);
    [lo, hi].forEach(yy => p.append("line").attr("x1", cx - 5.5).attr("x2", cx + 5.5)
      .attr("y1", yy).attr("y2", yy).attr("stroke", colour).attr("stroke-width", 2.2));
  });
  p.selectAll("circle").data(pts).join("circle")
    .attr("cx", d => x(d[0])).attr("cy", d => yv(d[1])).attr("r", filled ? 5.8 : 5.8)
    .attr("fill", filled ? colour : "none").attr("stroke", colour).attr("stroke-width", filled ? 0 : 1.3);
}

function drawPanel(row, r, c) {
  const g = svg.append("g").attr("transform", `translate(${colLeft(c)},${rowTop(r)})`);
  g.append("rect").attr("width", panelW).attr("height", panelH).attr("fill", "#ebebeb");

  // grid
  g.selectAll(".gx").data([10, 11]).join("line")
    .attr("x1", d => x(d)).attr("x2", d => x(d)).attr("y1", 0).attr("y2", panelH)
    .attr("stroke", "#bcbcbc").attr("stroke-width", 1).attr("stroke-dasharray", "2,2");
  g.selectAll(".gy").data([0.1, 1, 10, 100]).join("line")
    .attr("x1", 0).attr("x2", panelW).attr("y1", d => y(d)).attr("y2", d => y(d))
    .attr("stroke", "#bcbcbc").attr("stroke-width", 1).attr("stroke-dasharray", "2,2");

  const plot = g.append("g").attr("clip-path", "url(#clip)");
  plot.selectAll(".drop").data(row.drops[c]).join("line")
    .attr("x1", d => x(d[0])).attr("x2", d => x(d[0])).attr("y1", panelH + 5).attr("y2", d => yv(d[1]))
    .attr("stroke", "#ffa500").attr("stroke-width", 1.5).attr("stroke-opacity", 0.8);
  [row.mockSat[c], row.mockCen[c]].forEach(b => {
    plot.append("path").attr("d", band(b)).attr("fill", "#ffa500").attr("fill-opacity", 0.9)
      .attr("stroke", "#ffa500").attr("stroke-width", 6).attr("stroke-opacity", 0.75)
      .attr("stroke-linejoin", "round");
  });
  plot.append("path").attr("d", line(row.sdssCen[c])).attr("fill", "none")
    .attr("stroke", row.colour).attr("stroke-width", 5).attr("stroke-linejoin", "round");
  plot.append("path").attr("d", line(row.sdssSat[c])).attr("fill", "none")
    .attr("stroke", row.colour).attr("stroke-width", 5).attr("stroke-dasharray", "15,8");
  drawPoints(plot, row.ccmdCen[c], row.colour, true);
  drawPoints(plot, row.ccmdSat[c], row.colour, false);

  g.append("rect").attr("width", panelW).attr("height", panelH).attr("fill", "none")
    .attr("stroke", "#cbcbcb").attr("stroke-width", 1.5);

  // x ticks
  g.selectAll(".xt").data(xTicks).join("line")
    .attr("x1", d => x(d)).attr("x2", d => x(d)).attr("y1", panelH + 1).attr("y2", panelH + 13)
    .attr("stroke", "#000").attr("stroke-width", 2.2);
  g.selectAll(".xm").data(xMinor).join("line")
    .attr("x1", d => x(d)).attr("x2", d => x(d)).attr("y1", panelH + 1).attr("y2", panelH + 7)
    .attr("stroke", "#000").attr("stroke-width", 2);
  // y ticks
  const yMinor = [];
  [0.01, 0.1, 1, 10, 100].forEach(dec => { for (let k = 2; k <= 9; k++) if (dec * k <= 300) yMinor.push(dec * k); });
  g.selectAll(".ym").data(yMinor).join("line")
    .attr("x1", -3).attr("x2", 0).attr("y1", d => y(d)).attr("y2", d => y(d))
    .attr("stroke", "#333").attr("stroke-width", 1);
  g.selectAll(".yt").data(yExps).join("line")
    .attr("x1", -6).attr("x2", 0).attr("y1", d => y(Math.pow(10, d))).attr("y2", d => y(Math.pow(10, d)))
    .attr("stroke", "#000").attr("stroke-width", 2);

  if (c === 0) {
    yExps.forEach(e => {
      const t = g.append("text").attr("x", -8).attr("y", y(Math.pow(10, e)) + 8)
        .attr("text-anchor", "end").attr("font-size", 24);
      t.append("tspan").text("10");
      t.append("tspan").attr("dy", -10).attr("font-size", 16).text(e < 0 ? "\u2212" + (-e) : String(e));
    });
    svg.append("text").attr("transform", `translate(31,${rowTop(r) + panelH / 2}) rotate(-90)`)
      .attr("text-anchor", "middle").attr("font-size", 28).text("d\u27E8N\u27E9/d log L/halo");
  }
  if (r === 2) {
    g.selectAll(".xl").data(xTicks).join("text")
      .attr("x", d => x(d)).attr("y", panelH + 32).attr("text-anchor", "middle")
      .attr("font-size", 24).text(d => d);
    const t = g.append("text").attr("x", panelW / 2).attr("y", panelH + 68)
      .attr("text-anchor", "middle").attr("font-size", 31);
    t.append("tspan").text("log\u2002[L");
    t.append("tspan").attr("dy", 6).attr("font-size", 21).text("r");
    t.append("tspan").attr("dy", -6).text("/(h");
    t.append("tspan").attr("dy", -12).attr("font-size", 21).text("\u22122");
    t.append("tspan").attr("dy", 12).text("L");
    t.append("tspan").attr("dy", 6).attr("font-size", 21).text("\u2299");
    t.append("tspan").attr("dy", -6).text(")]");
  }
  if (r === 0) {
    svg.append("text").attr("x", colLeft(c) + panelW / 2).attr("y", 33)
      .attr("text-anchor", "middle").attr("font-size", 29).text(massBins[c]);
  }
  if (c === 0) drawLegend(g, row, "sdss");
  if (c === 1) drawLegend(g, row, "ccmd");
}

function drawLegend(g, row, kind) {
  const lg = g.append("g");
  const box = lg.append("rect").attr("rx", 4).attr("fill", "#fff").attr("fill-opacity", 0.8)
    .attr("stroke", "#d6d6d6").attr("stroke-width", 1);
  const textX = kind === "sdss" ? 64 : 65;
  const entries = kind === "sdss"
    ? ["SDSS groups ", "SDSS groups "] : ["CCMD groups ", "CCMD groups "];
  const kinds = ["cen", "sat"];
  let maxW = 0;
  entries.forEach((s, i) => {
    const t = lg.append("text").attr("x", textX).attr("y", 15 + i * 29 + 7).attr("font-size", 21);
    t.append("tspan").text(s);
    t.append("tspan").attr("font-style", "italic").text(row.label + kinds[i]);
    maxW = Math.max(maxW, t.node().getComputedTextLength());
  });
  const bw = textX + maxW + 9, bh = 63;
  box.attr("width", bw).attr("height", bh);
  [0, 1].forEach(i => {
    const cy = 15 + i * 29;
    if (kind === "sdss") {
      lg.append("line").attr("x1", 6).attr("x2", 49).attr("y1", cy).attr("y2", cy)
        .attr("stroke", row.colour).attr("stroke-width", 5)
        .attr("stroke-dasharray", i === 1 ? "15,8" : null);
    } else {
      lg.append("line").attr("x1", 29).attr("x2", 29).attr("y1", cy - 12).attr("y2", cy + 12)
        .attr("stroke", row.colour).attr("stroke-width", 2.2);
      [cy - 12, cy + 12].forEach(yy => lg.append("line").attr("x1", 23.5).attr("x2", 34.5)
        .attr("y1", yy).attr("y2", yy).attr("stroke", row.colour).attr("stroke-width", 2.2));
      lg.append("circle").attr("cx", 29).attr("cy", cy).attr("r", 5.8)
        .attr("fill", i === 0 ? row.colour : "none").attr("stroke", row.colour).attr("stroke-width", i === 0 ? 0 : 1.3);
    }
  });
  lg.attr("transform", `translate(${panelW - 11 - bw},10)`);
}

rows.forEach((row, r) => {
  for (let c = 0; c < 6; c++) drawPanel(row, r, c);
});
</script>
</body>
</html>
